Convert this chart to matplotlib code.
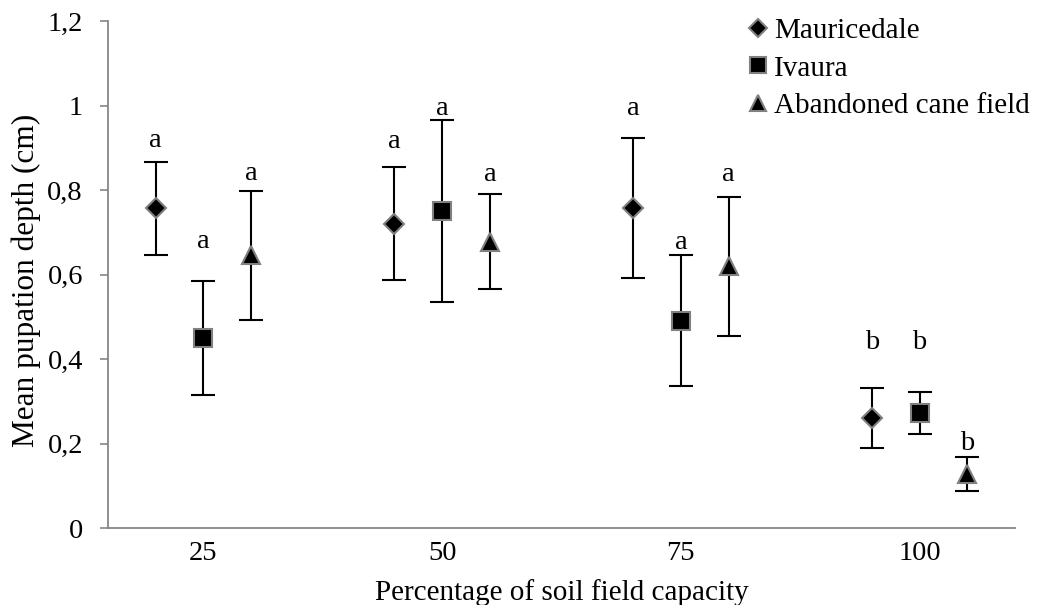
import matplotlib
matplotlib.use("Agg")
import matplotlib.pyplot as plt

plt.rcParams['font.family'] = ['Liberation Serif', 'DejaVu Serif']

# Soil field capacity treatments (%) and per-site means with error bars
capacities = [25, 50, 75, 100]
tick_labels = ["25", "50", "75", "100"]
sites = ["Mauricedale", "Ivaura", "Abandoned cane field"]

mauricedale_mean = [0.757, 0.720, 0.757, 0.260]
mauricedale_err = [0.110, 0.134, 0.165, 0.071]
ivaura_mean = [0.450, 0.750, 0.490, 0.272]
ivaura_err = [0.135, 0.215, 0.155, 0.050]
cane_mean = [0.645, 0.678, 0.619, 0.127]
cane_err = [0.153, 0.113, 0.165, 0.040]

# Significance letters and the heights at which they are written
mauricedale_letters = ["a", "a", "a", "b"]
ivaura_letters = ["a", "a", "a", "b"]
cane_letters = ["a", "a", "a", "b"]
mauricedale_letter_y = [0.918, 0.914, 0.994, 0.438]
ivaura_letter_y = [0.677, 0.994, 0.675, 0.438]
cane_letter_y = [0.838, 0.836, 0.836, 0.201]

series = [
    (mauricedale_mean, mauricedale_err, mauricedale_letters, mauricedale_letter_y, "D", 10.0, -5),
    (ivaura_mean, ivaura_err, ivaura_letters, ivaura_letter_y, "s", 12.5, 0),
    (cane_mean, cane_err, cane_letters, cane_letter_y, "^", 13.5, 5),
]

fig = plt.figure(figsize=(10.39, 6.05), dpi=100)
ax = fig.add_axes([108 / 1039, 77 / 605, 907 / 1039, 507 / 605])

FS = 20.5
handles = []
for (means, errs, letters, letter_y, marker, ms, offset), name in zip(series, sites):
    xs = [c + offset for c in capacities]
    cont = ax.errorbar(xs, means, yerr=errs, fmt=marker, ms=ms,
                       mfc="black", mec="#808080", mew=1.5,
                       ecolor="black", elinewidth=1.5, capsize=8.5, capthick=1.5,
                       label=name, zorder=3)
    handles.append(cont[0])
    for x, ly, t in zip(xs, letter_y, letters):
        ax.text(x, ly, t, ha="center", va="center", fontsize=FS)

ax.set_xlim(15, 110)
ax.set_ylim(0, 1.2)
ax.set_xticks(capacities)
ax.set_xticklabels(tick_labels)
ax.set_yticks([0, 0.2, 0.4, 0.6, 0.8, 1.0, 1.2])
ax.set_yticklabels(["0", "0,2", "0,4", "0,6", "0,8", "1", "1,2"])

for side in ("top", "right"):
    ax.spines[side].set_visible(False)
for side in ("left", "bottom"):
    ax.spines[side].set_color("#868686")
    ax.spines[side].set_linewidth(1.3)

ax.tick_params(axis="y", direction="out", length=6, width=1.2, color="#868686",
               pad=12, labelsize=FS)
ax.tick_params(axis="x", length=0, pad=9.5, labelsize=FS)

ax.set_xlabel("Percentage of soil field capacity", fontsize=21, labelpad=9)
ax.set_ylabel("Mean pupation depth (cm)", fontsize=22.5)
ax.yaxis.set_label_coords(-0.074, 0.489)

leg = ax.legend(handles=handles, labels=sites, loc="upper left",
                bbox_to_anchor=(749 / 1039, 1.0 - 18 / 605), bbox_transform=fig.transFigure,
                frameon=False, fontsize=21, handlelength=0.6, handletextpad=0.25,
                labelspacing=0.37, borderpad=0, borderaxespad=0, markerscale=0.88)

fig.savefig("out.png", dpi=100, facecolor="white")
